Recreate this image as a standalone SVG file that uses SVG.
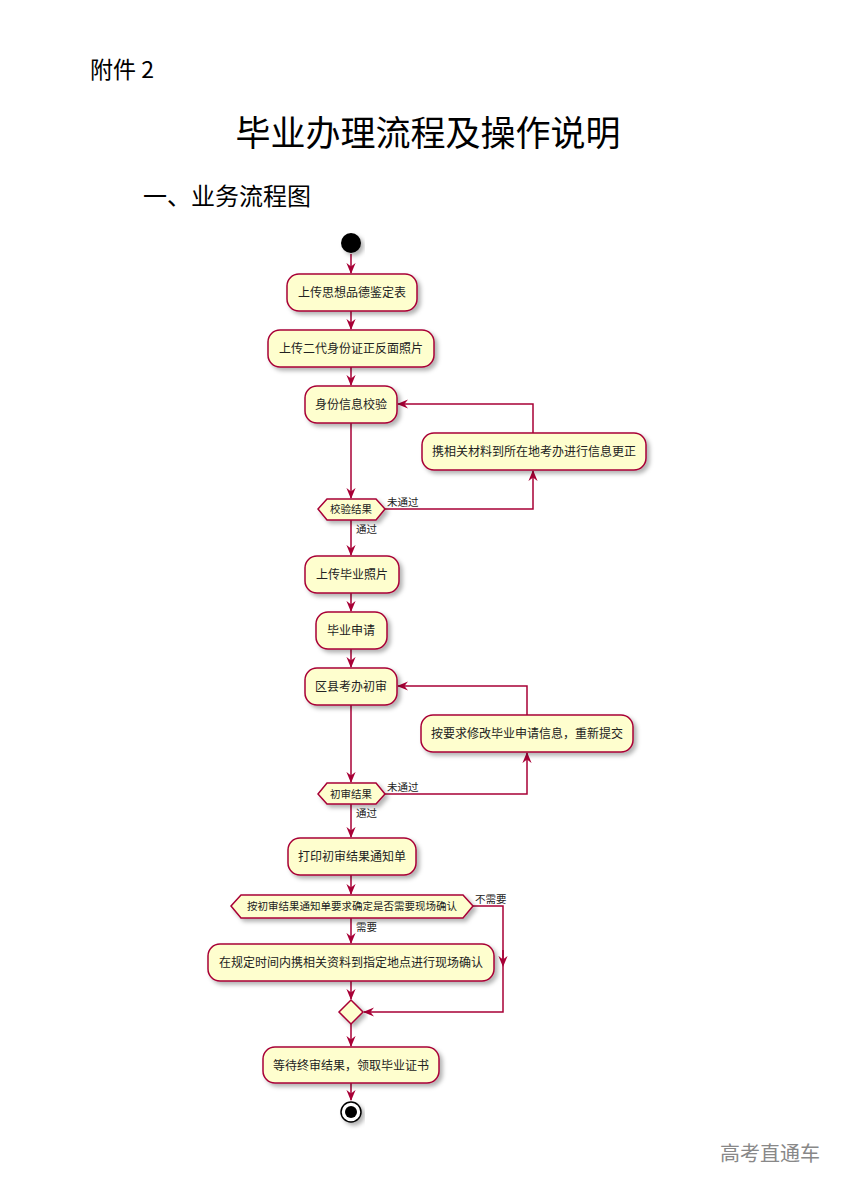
<svg xmlns="http://www.w3.org/2000/svg" width="857" height="1192" viewBox="0 0 857 1192">
<defs>
<filter id="sh" x="-10%" y="-20%" width="130%" height="160%"><feDropShadow dx="3" dy="3" stdDeviation="2" flood-color="#000" flood-opacity="0.3"/></filter>
<marker id="ar" viewBox="0 0 12 10" refX="11" refY="5" markerWidth="11" markerHeight="10" orient="auto" markerUnits="userSpaceOnUse"><path d="M0,0 L12,5 L0,10 L4,5 Z" fill="#A80036"/></marker>
</defs>
<style>
.b{fill:#FEFECE;stroke:#A80036;stroke-width:1.5;filter:url(#sh)}
.t{font-family:"Noto Sans CJK SC",sans-serif;font-size:12px;fill:#222;text-anchor:middle}
.l{font-family:"Noto Sans CJK SC",sans-serif;font-size:10.5px;fill:#222}
.c{fill:none;stroke:#A80036;stroke-width:1.5}
.h{font-family:"Noto Sans CJK SC",sans-serif;fill:#000}
</style>
<rect width="857" height="1192" fill="#fff"/>
<text class="h" x="90" y="78" font-size="23">附件 2</text>
<text class="h" x="428" y="146" font-size="35" text-anchor="middle">毕业办理流程及操作说明</text>
<text class="h" x="143" y="205" font-size="24">一、业务流程图</text>
<text x="720" y="1161" font-family="Noto Sans CJK SC,sans-serif" font-size="20" fill="#888">高考直通车</text>
<g id="connectors">
<path class="c" d="M351,254 V273" marker-end="url(#ar)"/>
<path class="c" d="M351,311 V329" marker-end="url(#ar)"/>
<path class="c" d="M351,367 V385" marker-end="url(#ar)"/>
<path class="c" d="M351,423 V498" marker-end="url(#ar)"/>
<path class="c" d="M385,509 H533 V471" marker-end="url(#ar)"/>
<path class="c" d="M533,433 V404 H398" marker-end="url(#ar)"/>
<path class="c" d="M351,520 V555" marker-end="url(#ar)"/>
<path class="c" d="M351,593 V611" marker-end="url(#ar)"/>
<path class="c" d="M351,649 V667" marker-end="url(#ar)"/>
<path class="c" d="M351,705 V782" marker-end="url(#ar)"/>
<path class="c" d="M385,794 H527 V753" marker-end="url(#ar)"/>
<path class="c" d="M527,715 V686 H398" marker-end="url(#ar)"/>
<path class="c" d="M351,804 V837" marker-end="url(#ar)"/>
<path class="c" d="M351,875 V894" marker-end="url(#ar)"/>
<path class="c" d="M351,918 V943" marker-end="url(#ar)"/>
<path class="c" d="M473,906 H503 V965"/>
<path class="c" d="M503,950 V966" marker-end="url(#ar)"/>
<path class="c" d="M503,966 V1012 H364" marker-end="url(#ar)"/>
<path class="c" d="M351,981 V999" marker-end="url(#ar)"/>
<path class="c" d="M351,1024 V1046" marker-end="url(#ar)"/>
<path class="c" d="M351,1083 V1100" marker-end="url(#ar)"/>
</g>
<g id="start"><circle cx="351" cy="243" r="10" fill="#000" filter="url(#sh)"/></g>
<g id="n1"><rect class="b" x="287" y="274" width="130" height="37" rx="12"/><text class="t" x="352" y="297">上传思想品德鉴定表</text></g>
<g id="n2"><rect class="b" x="268" y="330" width="166" height="37" rx="12"/><text class="t" x="351" y="353">上传二代身份证正反面照片</text></g>
<g id="n3"><rect class="b" x="305" y="386" width="92" height="37" rx="12"/><text class="t" x="351" y="409">身份信息校验</text></g>
<g id="n4"><rect class="b" x="422" y="433" width="224" height="37" rx="12"/><text class="t" x="534" y="456">携相关材料到所在地考办进行信息更正</text></g>
<g id="d1"><polygon class="b" points="318,509 327,499 376,499 385,509 376,520 327,520"/><text class="l" x="351" y="513" text-anchor="middle">校验结果</text><text class="l" x="387" y="506">未通过</text><text class="l" x="356" y="533">通过</text></g>
<g id="n5"><rect class="b" x="305" y="556" width="94" height="37" rx="12"/><text class="t" x="352" y="579">上传毕业照片</text></g>
<g id="n6"><rect class="b" x="316" y="612" width="71" height="37" rx="12"/><text class="t" x="351" y="635">毕业申请</text></g>
<g id="n7"><rect class="b" x="305" y="668" width="92" height="37" rx="12"/><text class="t" x="351" y="691">区县考办初审</text></g>
<g id="n8"><rect class="b" x="421" y="715" width="212" height="37" rx="12"/><text class="t" x="527" y="738">按要求修改毕业申请信息，重新提交</text></g>
<g id="d2"><polygon class="b" points="318,794 327,783 376,783 385,794 376,804 327,804"/><text class="l" x="351" y="798" text-anchor="middle">初审结果</text><text class="l" x="387" y="791">未通过</text><text class="l" x="356" y="817">通过</text></g>
<g id="n9"><rect class="b" x="288" y="838" width="128" height="37" rx="12"/><text class="t" x="352" y="861">打印初审结果通知单</text></g>
<g id="d3"><polygon class="b" points="231,906 241,895 463,895 473,906 463,918 241,918"/><text class="l" x="352" y="910" text-anchor="middle">按初审结果通知单要求确定是否需要现场确认</text><text class="l" x="475" y="903">不需要</text><text class="l" x="356" y="931">需要</text></g>
<g id="n10"><rect class="b" x="208" y="944" width="286" height="37" rx="12"/><text class="t" x="351" y="967">在规定时间内携相关资料到指定地点进行现场确认</text></g>
<g id="m"><polygon class="b" points="351,1000 363,1012 351,1024 339,1012"/></g>
<g id="n11"><rect class="b" x="263" y="1047" width="176" height="36" rx="12"/><text class="t" x="351" y="1070">等待终审结果，领取毕业证书</text></g>
<g id="end"><circle cx="351" cy="1112" r="10" fill="#fff" stroke="#000" stroke-width="1.5" filter="url(#sh)"/><circle cx="351" cy="1112" r="6" fill="#000"/></g>
</svg>
